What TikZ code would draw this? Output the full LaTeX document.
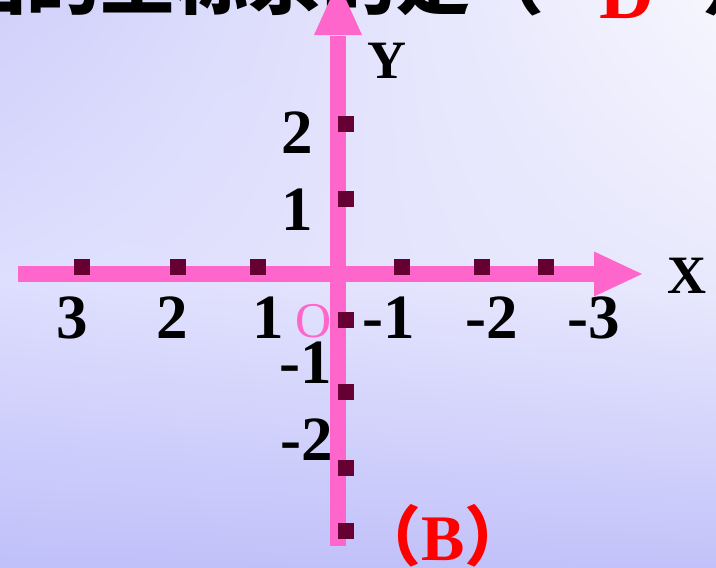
\documentclass[tikz,border=0pt]{standalone}
\usepackage{fontspec}
\setmainfont{Liberation Serif}
\newfontfamily\cjk{Noto Sans CJK SC}
\usetikzlibrary{shadings}
\definecolor{axpink}{HTML}{FF66CC}
\definecolor{tickc}{HTML}{660033}
\definecolor{bgul}{HTML}{D0D0FB}
\definecolor{bgur}{HTML}{F6F6FE}
\definecolor{bgml}{HTML}{DEDEFE}
\definecolor{bgmr}{HTML}{E9E9FD}
\definecolor{bgll}{HTML}{C0C0FA}
\definecolor{bglr}{HTML}{C2C2FA}
\definecolor{ansred}{HTML}{FF0000}
\tikzset{
  num/.style={inner sep=0pt, anchor=base, font=\fontsize{63}{63}\selectfont\bfseries},
  axname/.style={inner sep=0pt, anchor=base, font=\fontsize{54}{54}\selectfont\bfseries},
  origin/.style={inner sep=0pt, anchor=base, text=axpink, font=\fontsize{50}{50}\selectfont},
  axisline/.style={draw=axpink, line width=16pt},
  axishead/.style={fill=axpink},
  tickbox/.style={fill=tickc}
}
\begin{document}
\begin{tikzpicture}[x=1pt,y=-1pt]
\clip (0,0) rectangle (716,568);
% background gradient
\shade[upper left=bgml, upper right=bgmr, lower left=bgll, lower right=bglr] (0,282) rectangle (716,568);
\shade[upper left=bgul, upper right=bgur, lower left=bgml, lower right=bgmr] (0,0) rectangle (716,284);

% top question text (cut off)
\node[inner sep=0pt, anchor=base west, font=\cjk\fontsize{74}{74}\selectfont\bfseries] (q) at (-48,8) {画的坐标系的是（};
\node[inner sep=0pt, anchor=base west, text=ansred, font=\fontsize{76}{76}\selectfont\bfseries] (ans) at (599,18) {D};
\node[inner sep=0pt, anchor=base west, font=\cjk\fontsize{74}{74}\selectfont\bfseries] (qe) at (702,8) {）};

% axes
\coordinate (xs) at (18,274);
\coordinate (xe) at (596,274);
\coordinate (ys) at (338,546);
\coordinate (ye) at (338,36);
\draw[axisline] (xs) -- (xe);
\draw[axisline] (ys) -- (ye);
\fill[axishead] (594,251.5) -- (642,274) -- (594,296.5) -- cycle;
\fill[axishead] (314,35) -- (338,-18) -- (362,35) -- cycle;

% ticks on x axis
\foreach \t in {82,178,258,402,482,546}
  \fill[tickbox] (\t-8,259) rectangle (\t+8,275);
% ticks on y axis
\foreach \t in {124,199,320,392,468,531}
  \fill[tickbox] (338,\t-8) rectangle (354,\t+8);

% x labels
\node[num] (x3) at (72,338) {3};
\node[num] (x2) at (172,338) {2};
\node[num] (x1) at (268,338) {1};
\node[num] (xm1) at (389,338) {-1};
\node[num] (xm2) at (492,338) {-2};
\node[num] (xm3) at (594,338) {-3};
% y labels
\node[num] (y2) at (297,153) {2};
\node[num] (y1) at (297,230) {1};
\node[num] (ym1) at (306,383) {-1};
\node[num] (ym2) at (307,460) {-2};
% origin and axis names
\node[origin] (o) at (314,337) {O};
\node[axname] (ylab) at (387,78) {Y};
\node[axname] (xlab) at (687,293) {X};
% answer label
\node[inner sep=0pt, anchor=base, text=ansred, font=\fontsize{65}{65}\selectfont\bfseries] (b) at (443,560) {{\cjk （}B{\cjk ）}};
\end{tikzpicture}
\end{document}
